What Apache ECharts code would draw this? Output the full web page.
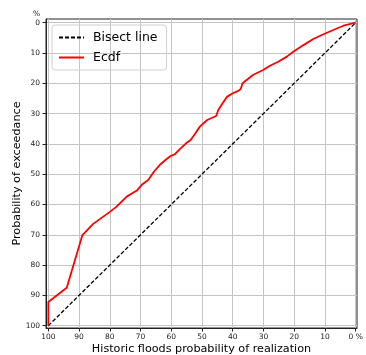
<!DOCTYPE html>
<html><head><meta charset="utf-8">
<script src="https://cdn.jsdelivr.net/npm/echarts@6/dist/echarts.min.js"></script>
<style>html,body{margin:0;padding:0;background:#fff}#c{width:366px;height:355px}</style>
</head><body><div id="c"></div>
<script>
const tickValues = [0,10,20,30,40,50,60,70,80,90,100];
const bisectX = [100, 0];
const bisectY = [100, 0];
const ecdfX = [100,100,94,88.9,85.4,80.2,77.8,74.5,71.2,69.6,67.5,65.6,63.7,61.5,60.2,58.8,57.2,55.2,53.7,52.3,50.7,48.3,45.4,44.7,43.3,41.8,40.0,38.2,37.4,36.8,35.5,33.3,30.1,27.9,25.2,22.4,20.3,17.0,13.8,10.5,7.3,4.0,0];
const ecdfY = [100,92.2,87.5,70.1,66.4,62.6,60.7,57.4,55.4,53.5,51.9,49.1,46.9,45.0,44.0,43.4,41.7,39.8,38.7,36.7,34.3,32.1,30.8,28.8,26.6,24.4,23.3,22.5,21.9,20.0,18.9,17.2,15.6,14.2,12.9,11.2,9.6,7.4,5.4,3.8,2.4,1.0,0];

const font = 'DejaVu Sans';
const chart = echarts.init(document.getElementById('c'));
chart.setOption({
  animation: false,
  grid: {left: 46, right: 9, top: 19, bottom: 27, show: true, borderColor: '#222', borderWidth: 1,
         containLabel: false, outerBoundsMode: 'none'},
  legend: {
    orient: 'vertical', left: 52, top: 25,
    itemWidth: 25, itemHeight: 10, itemGap: 7,
    padding: [6, 9, 6, 6],
    borderColor: '#d0d0d0', borderWidth: 1, borderRadius: 3,
    itemStyle: {opacity: 0},
    textStyle: {fontFamily: font, fontSize: 12.5, color: '#000', padding: [0, 0, 0, 4]},
    data: ['Bisect line', 'Ecdf']
  },
  xAxis: {
    type: 'value', inverse: true, min: -0.42, max: 100.75,
    name: 'Historic floods probability of realization', nameLocation: 'middle', nameGap: 16,
    nameMoveOverlap: false,
    nameTextStyle: {fontFamily: font, fontSize: 11.2, color: '#000'},
    axisLine: {onZero: false, lineStyle: {color: '#222'}},
    axisTick: {customValues: tickValues, length: 3.5, lineStyle: {color: '#222'}},
    axisLabel: {customValues: tickValues, fontFamily: font, fontSize: 7.5, color: '#222', margin: 5,
      formatter: v => v === 0 ? '0 %' : String(v)},
    splitLine: {show: true, lineStyle: {color: '#c4c4c4', width: 1}}
  },
  yAxis: {
    type: 'value', inverse: true, min: -1.22, max: 100.76,
    name: 'Probability of exceedance', nameLocation: 'middle', nameGap: 23,
    nameMoveOverlap: false,
    nameTextStyle: {fontFamily: font, fontSize: 11.2, color: '#000'},
    axisLine: {onZero: false, lineStyle: {color: '#222'}},
    axisTick: {customValues: tickValues, length: 3.5, lineStyle: {color: '#222'}},
    axisLabel: {customValues: tickValues, fontFamily: font, fontSize: 7.5, color: '#222', margin: 6},
    splitLine: {show: true, lineStyle: {color: '#c4c4c4', width: 1}}
  },
  graphic: [{type: 'text', left: 33, top: 10, style: {text: '%', fontFamily: font, fontSize: 7.5, fill: '#222'}}],
  series: [
    {name: 'Bisect line', type: 'line', symbol: 'none', silent: true,
     data: bisectX.map((x, i) => [x, bisectY[i]]),
     lineStyle: {color: '#000', width: 1.3, type: [4, 2]}, itemStyle: {color: '#000'}},
    {name: 'Ecdf', type: 'line', symbol: 'none', silent: true,
     data: ecdfX.map((x, i) => [x, ecdfY[i]]),
     lineStyle: {color: '#ff0000', width: 1.8}, itemStyle: {color: '#ff0000'}}
  ]
});
</script></body></html>
